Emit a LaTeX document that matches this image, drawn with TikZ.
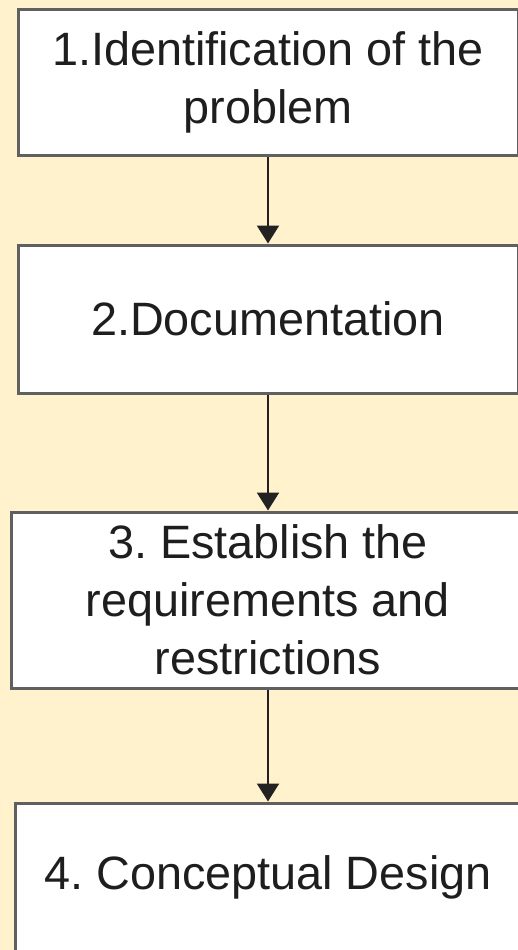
\documentclass[tikz,border=0pt]{standalone}
\usepackage{fontspec}
\setmainfont{Liberation Sans}
\usetikzlibrary{arrows.meta}
\frenchspacing

\definecolor{bgyellow}{RGB}{255,242,204}
\definecolor{boxline}{RGB}{96,96,96}
\definecolor{arrowline}{RGB}{34,34,34}
\definecolor{labeltext}{RGB}{30,30,30}

\tikzset{
  stage/.style={draw=boxline,line width=3pt,fill=white,align=center,
    minimum width=500pt,inner sep=0pt,text=labeltext,
    font=\fontsize{46.8pt}{58pt}\selectfont},
  flow/.style={draw=arrowline,line width=2.2pt,
    -{Triangle[width=22pt,length=18pt]}}
}

\begin{document}
\begin{tikzpicture}[x=1pt,y=-1pt]
\fill[bgyellow] (0,0) rectangle (518,950);
\useasboundingbox (0,0) rectangle (518,950);
\node[stage,minimum height=145pt] (ident) at (268,82.5) {1.Identification of the\\problem};
\node[stage,minimum height=148pt] (doc) at (268,319) {2.Documentation};
\node[stage,minimum width=514pt,minimum height=176pt] (req) at (268,600) {3. Establish the\\requirements and\\restrictions};
\node[stage,minimum width=506pt,minimum height=148pt] (concept) at (268,877) {4. Conceptual Design};
\draw[flow] (ident) -- (doc);
\draw[flow] (doc) -- (req);
\draw[flow] (req) -- (concept);
\end{tikzpicture}
\end{document}
